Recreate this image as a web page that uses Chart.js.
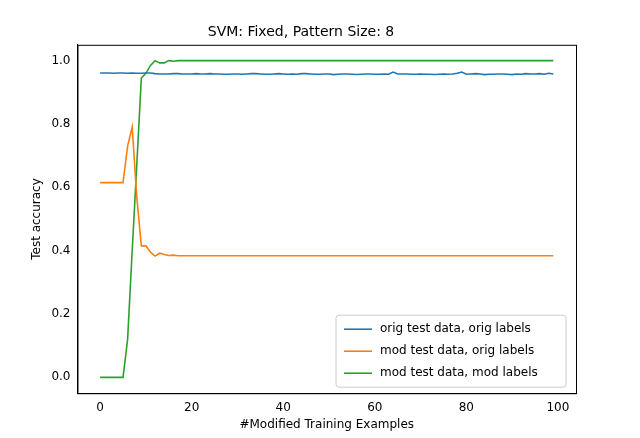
<!DOCTYPE html>
<html>
<head>
<script src="https://cdn.jsdelivr.net/npm/chart.js@4/dist/chart.umd.min.js"></script>
<style>body{margin:0;background:#fff}#wrap{width:640px;height:438px}</style>
</head>
<body>
<div id="wrap"><canvas id="c"></canvas></div>
<script>
const steps = Array.from({length: 100}, (_, i) => i);
const xTicks = [0, 20, 40, 60, 80, 100];
const yTicks = [0, 0.2, 0.4, 0.6, 0.8, 1.0];
const origOrig = [
  0.961,0.961,0.961,0.960,0.961,0.961,0.960,0.961,0.960,0.960,
  0.961,0.961,0.959,0.958,0.958,0.958,0.959,0.959,0.958,0.958,
  0.958,0.959,0.958,0.958,0.959,0.958,0.958,0.957,0.957,0.958,
  0.958,0.957,0.958,0.959,0.959,0.958,0.957,0.957,0.958,0.959,
  0.958,0.957,0.958,0.957,0.959,0.959,0.958,0.957,0.957,0.958,
  0.958,0.956,0.957,0.958,0.958,0.957,0.956,0.957,0.958,0.958,
  0.957,0.957,0.958,0.957,0.964,0.958,0.958,0.958,0.957,0.957,
  0.958,0.957,0.957,0.956,0.957,0.958,0.957,0.958,0.960,0.964,
  0.957,0.958,0.959,0.958,0.956,0.957,0.957,0.958,0.958,0.957,
  0.956,0.958,0.957,0.959,0.958,0.958,0.959,0.957,0.960,0.958
];
const modOrig = [
  0.615,0.615,0.615,0.615,0.615,0.615,0.730,0.790,0.570,0.415,
  0.415,0.395,0.383,0.392,0.388,0.385,0.386,0.384
].concat(Array(82).fill(0.384));
const modMod = [
  0,0,0,0,0,0,0.120,0.400,0.670,0.945,
  0.960,0.985,1.000,0.993,0.993,1.000,0.998
].concat(Array(83).fill(1.0));

const mk = (label, data, color) => ({label, data, borderColor: color, backgroundColor: color,
  borderWidth: 1.6, pointRadius: 0, tension: 0});

new Chart(document.getElementById('c'), {
  type: 'line',
  data: {
    labels: steps,
    datasets: [
      mk('orig test data, orig labels', origOrig, '#1f77b4'),
      mk('mod test data, orig labels', modOrig, '#ff7f0e'),
      mk('mod test data, mod labels', modMod, '#2ca02c')
    ]
  },
  options: {
    responsive: true, maintainAspectRatio: false, animation: false,
    layout: {padding: {left: 26, right: 64, top: 2, bottom: 2}},
    plugins: {
      title: {display: true, text: 'SVM: Fixed, Pattern Size: 8', color: '#000',
        font: {family: 'DejaVu Sans', size: 14, weight: 'normal'}, padding: {top: 22, bottom: 4}},
      legend: {display: false},
      tooltip: {enabled: false}
    },
    scales: {
      x: {type: 'linear', min: -4.95, max: 103.95,
        afterBuildTicks: s => { s.ticks = xTicks.map(v => ({value: v})); },
        grid: {display: false, tickLength: 4, tickColor: '#000'},
        border: {color: '#000'},
        title: {display: true, text: '#Modified Training Examples', color: '#000', font: {family: 'DejaVu Sans', size: 12}, padding: {top: 0}},
        ticks: {color: '#000', font: {family: 'DejaVu Sans', size: 12}, callback: v => v}
      },
      y: {min: -0.05, max: 1.05,
        afterBuildTicks: s => { s.ticks = yTicks.map(v => ({value: v})); },
        grid: {display: false, tickLength: 4, tickColor: '#000'},
        border: {color: '#000'},
        title: {display: true, text: 'Test accuracy', color: '#000', font: {family: 'DejaVu Sans', size: 12}},
        ticks: {color: '#000', font: {family: 'DejaVu Sans', size: 12}, callback: v => v.toFixed(1)}
      }
    }
  },
  plugins: [{
    id: 'frameLegend',
    afterDraw(chart) {
      const {ctx, chartArea: a} = chart;
      ctx.save();
      ctx.strokeStyle = '#000'; ctx.lineWidth = 1;
      ctx.strokeRect(a.left + 0.5, a.top + 0.5, a.right - a.left, a.bottom - a.top);
      const ds = chart.data.datasets;
      const w = 230, h = 72, x = a.right - w - 10, y = a.bottom - h - 6;
      ctx.fillStyle = 'rgba(255,255,255,0.85)';
      ctx.strokeStyle = '#ccc';
      ctx.beginPath(); ctx.roundRect(x, y, w, h, 3); ctx.fill(); ctx.stroke();
      ctx.font = '12px DejaVu Sans'; ctx.textBaseline = 'middle';
      ds.forEach((d, i) => {
        const yy = y + 14 + i * 22;
        ctx.strokeStyle = d.borderColor; ctx.lineWidth = 1.6;
        ctx.beginPath(); ctx.moveTo(x + 8, yy); ctx.lineTo(x + 36, yy); ctx.stroke();
        ctx.fillStyle = '#000'; ctx.fillText(d.label, x + 44, yy);
      });
      ctx.restore();
    }
  }]
});
</script>
</body>
</html>
